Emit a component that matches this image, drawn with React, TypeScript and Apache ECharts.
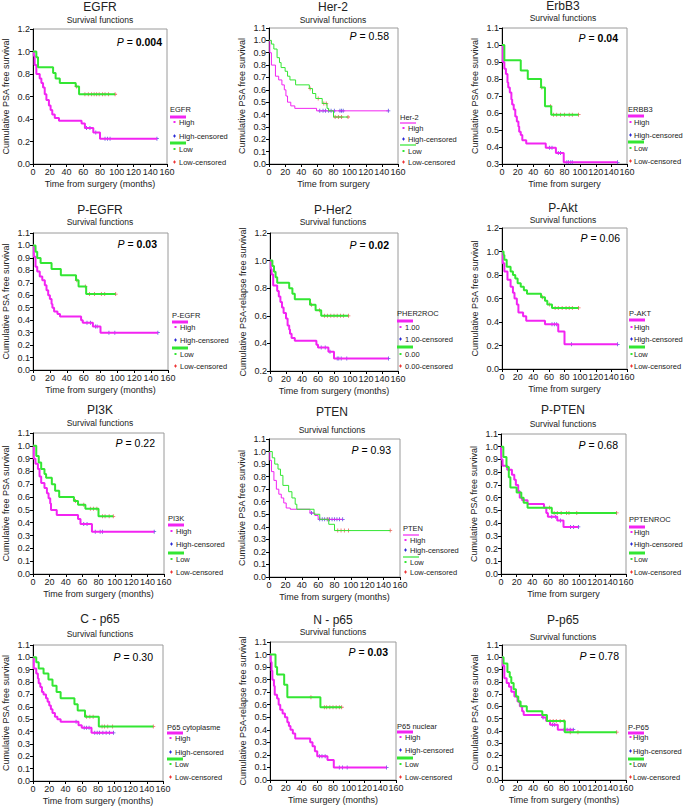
import React, { useEffect, useRef } from 'react';
import * as echarts from 'echarts';

type Pt = [number, number];

// ---------- data: step points [time (months), survival] and censor times ----------
const egfrHigh: Pt[] = [[0,1],[1,0.96],[2,0.88],[4,0.8],[8,0.76],[10,0.72],[12,0.68],[14,0.62],[16,0.57],[19,0.52],[21,0.48],[23,0.44],[26,0.41],[31,0.385],[58,0.36],[62,0.32],[72,0.28],[80,0.225]];
const egfrHighCens = [64, 68, 75, 86, 89, 92, 148];
const egfrLow: Pt[] = [[0,1],[4,0.95],[6,0.86],[24,0.81],[27,0.76],[32,0.72],[51,0.69],[55,0.62]];
const egfrLowCens = [52, 62, 66, 70, 73, 76, 79, 83, 86, 90, 98];

const her2High: Pt[] = [[0,1],[1,0.9],[3,0.8],[8,0.71],[12,0.68],[16,0.64],[19,0.6],[21,0.55],[23,0.5],[27,0.47],[32,0.45],[59,0.43]];
const her2HighCens = [63, 67, 70, 74, 77, 81, 88, 90, 92, 148];
const her2Low: Pt[] = [[0,1],[3,0.97],[6,0.93],[10,0.86],[13,0.82],[15,0.78],[20,0.75],[23,0.71],[26,0.68],[33,0.64],[50,0.61],[54,0.57],[58,0.53],[66,0.49],[72,0.45],[74,0.43],[80,0.38]];
const her2LowCens = [51, 61, 68, 71, 82, 86, 90, 98];

const erbHigh: Pt[] = [[0,1],[1,0.9],[3,0.86],[5,0.83],[7,0.78],[8,0.75],[10,0.72],[12,0.68],[13,0.65],[15,0.62],[17,0.58],[19,0.55],[21,0.52],[22,0.49],[24,0.47],[26,0.44],[31,0.42],[56,0.395],[69,0.365],[79,0.31]];
const erbHighCens = [61, 64, 72, 75, 83, 85, 88, 90, 148];
const erbLow: Pt[] = [[0,1],[3,0.91],[24,0.85],[33,0.8],[50,0.75],[55,0.64],[63,0.59]];
const erbLowCens = [51, 62, 66, 70, 75, 80, 86, 90, 98];

const pegfrHigh: Pt[] = [[0,1],[1,0.91],[3,0.83],[5,0.79],[8,0.75],[11,0.72],[14,0.68],[16,0.64],[18,0.6],[20,0.57],[22,0.53],[23,0.5],[25,0.47],[29,0.45],[32,0.43],[57,0.4],[59,0.38],[71,0.35],[80,0.3]];
const pegfrHighCens = [64, 68, 74, 76, 90, 97, 148];
const pegfrLow: Pt[] = [[0,1],[3,0.95],[5,0.9],[9,0.86],[22,0.81],[33,0.76],[51,0.72],[54,0.67],[63,0.61]];
const pegfrLowCens = [52, 62, 67, 73, 81, 85, 98];

const pher2High: Pt[] = [[0,1],[1,0.94],[2,0.9],[4,0.82],[9,0.78],[11,0.74],[13,0.7],[15,0.66],[17,0.62],[20,0.58],[22,0.53],[24,0.5],[25,0.47],[27,0.44],[31,0.42],[58,0.39],[60,0.37],[73,0.34],[80,0.29]];
const pher2HighCens = [64, 69, 75, 84, 86, 89, 96, 148];
const pher2Low: Pt[] = [[0,1],[3,0.96],[5,0.92],[7,0.88],[9,0.84],[24,0.8],[28,0.76],[31,0.72],[50,0.68],[57,0.64],[64,0.6]];
const pher2LowCens = [52, 62, 68, 72, 76, 80, 84, 88, 92, 98];

const paktHigh: Pt[] = [[0,1],[1,0.9],[3,0.83],[7,0.76],[11,0.7],[14,0.65],[16,0.6],[19,0.55],[21,0.48],[27,0.45],[31,0.41],[55,0.38],[72,0.32],[80,0.21]];
const paktHighCens = [64, 67, 70, 89, 148];
const paktLow: Pt[] = [[0,1],[2,0.97],[3,0.93],[6,0.87],[11,0.83],[14,0.8],[17,0.77],[20,0.73],[24,0.7],[28,0.67],[32,0.64],[50,0.61],[55,0.58],[58,0.55],[64,0.52]];
const paktLowCens = [52, 61, 68, 72, 77, 82, 86, 90, 98];

const pi3kHigh: Pt[] = [[0,1],[1,0.9],[3,0.86],[6,0.82],[8,0.76],[10,0.71],[14,0.67],[17,0.63],[19,0.59],[21,0.55],[22,0.5],[29,0.46],[55,0.43],[58,0.39],[72,0.33]];
const pi3kHighCens = [62, 66, 76, 82, 85, 148];
const pi3kLow: Pt[] = [[0,1],[4,0.92],[7,0.87],[10,0.82],[14,0.78],[16,0.75],[23,0.7],[27,0.65],[32,0.6],[50,0.57],[55,0.54],[64,0.51],[80,0.45]];
const pi3kLowCens = [52, 62, 70, 74, 78, 85, 88, 93, 98];

const ptenHigh: Pt[] = [[0,1],[1,0.93],[3,0.84],[6,0.77],[9,0.7],[12,0.66],[15,0.63],[18,0.59],[21,0.55],[26,0.54],[50,0.51],[56,0.49],[60,0.46]];
const ptenHighCens = [52, 62, 65, 68, 71, 74, 77, 80, 83, 86, 90];
const ptenLow: Pt[] = [[0,1],[4,0.95],[7,0.9],[11,0.86],[14,0.81],[17,0.73],[24,0.68],[28,0.63],[32,0.58],[34,0.54],[55,0.5],[62,0.46],[73,0.42],[80,0.37]];
const ptenLowCens = [72, 84, 88, 92, 97, 148];

const pptenHigh: Pt[] = [[0,1],[0.5,0.9],[2,0.85],[8,0.82],[14,0.78],[17,0.74],[19,0.7],[22,0.65],[24,0.6],[27,0.58],[34,0.55],[55,0.52],[58,0.48],[60,0.45],[72,0.42],[80,0.37]];
const pptenHighCens = [65, 70, 76, 89, 93, 99];
const pptenLow: Pt[] = [[0,1],[3,0.92],[7,0.84],[10,0.76],[12,0.68],[20,0.64],[26,0.6],[29,0.56],[34,0.52],[65,0.48]];
const pptenLowCens = [62, 68, 72, 77, 84, 87, 97, 148];

const cp65High: Pt[] = [[0,1],[1,0.91],[4,0.87],[6,0.83],[7,0.79],[9,0.76],[11,0.72],[13,0.7],[16,0.67],[18,0.64],[20,0.61],[22,0.58],[24,0.55],[27,0.52],[30,0.5],[34,0.48],[56,0.45],[60,0.43],[72,0.39]];
const cp65HighCens = [53, 63, 66, 69, 76, 79, 82, 86, 90, 94, 99];
const cp65Low: Pt[] = [[0,1],[4,0.96],[7,0.91],[13,0.87],[19,0.82],[24,0.77],[29,0.72],[34,0.67],[51,0.62],[55,0.57],[64,0.52],[81,0.44]];
const cp65LowCens = [66, 70, 74, 85, 88, 92, 98, 148];

const np65High: Pt[] = [[0,1],[1,0.94],[2,0.87],[3,0.8],[5,0.75],[6,0.68],[9,0.65],[11,0.6],[13,0.56],[16,0.53],[19,0.5],[22,0.46],[24,0.43],[26,0.4],[29,0.37],[32,0.33],[51,0.3],[54,0.27],[57,0.23],[60,0.19],[73,0.16],[81,0.1]];
const np65HighCens = [63, 66, 70, 88, 92, 98, 148];
const np65Low: Pt[] = [[0,1],[7,0.9],[9,0.84],[18,0.76],[22,0.66],[64,0.58]];
const np65LowCens = [52, 69, 72, 76, 80, 84, 88, 91];

const pp65High: Pt[] = [[0,1],[1,0.93],[3,0.83],[6,0.79],[9,0.76],[12,0.72],[16,0.68],[20,0.64],[23,0.6],[26,0.56],[28,0.53],[52,0.51],[57,0.48],[62,0.45],[72,0.41]];
const pp65HighCens = [53, 65, 68, 80, 84, 88, 92];
const pp65Low: Pt[] = [[0,1],[2,0.95],[7,0.88],[10,0.84],[12,0.79],[15,0.74],[18,0.68],[21,0.64],[24,0.6],[32,0.56],[52,0.53],[58,0.48],[81,0.39]];
const pp65LowCens = [62, 66, 70, 75, 80, 88, 98, 148];

const xTicks = { min: 0, max: 160, interval: 20 };
const hlLabels = ['High', 'High-censored', 'Low', 'Low-censored'];
const rocLabels = ['1.00', '1.00-censored', '0.00', '0.00-censored'];

// ---------- layout ----------
const FONT = '"Liberation Sans", Arial, Helvetica, sans-serif';
const MAGENTA = '#f224f2';
const GREEN = '#33e633';
const BLUE = '#2a2ad6';
const RED = '#ee3434';
const TXT = '#222';

const YN = 'Cumulative PSA free survival';
const YR = 'Cumulative PSA-relapse free survival';
const XM = 'Time from surgery (months)';
const XS = 'Time from surgery';

const panels = [
  { title: 'EGFR', tx: 100, ty: 7, sy: 20, p: '0.004', bold: true, pr: 162, py: 42, x0: 33, x1: 167, top: 29, bot: 164, min: 0, max: 1.2, step: 0.2, xName: XM, yName: YN, lx: 170, lo: 9, ly: [109, 117, 122, 136, 143, 149, 162], lt: 'EGFR', labels: hlLabels, thin: false, high: egfrHigh, highC: egfrHighCens, low: egfrLow, lowC: egfrLowCens },
  { title: 'Her-2', tx: 333, ty: 7, sy: 20, p: '0.58', bold: false, pr: 389, py: 36, x0: 269, x1: 398, top: 28, bot: 164, min: 0, max: 1.1, step: 0.1, xName: XS, yName: YN, lx: 400, lo: 8, ly: [117, 123, 128, 139, 145, 151, 162], lt: 'Her-2', labels: hlLabels, thin: true, high: her2High, highC: her2HighCens, low: her2Low, lowC: her2LowCens },
  { title: 'ErbB3', tx: 563, ty: 6, sy: 17.5, p: '0.04', bold: true, pr: 618, py: 38, x0: 502, x1: 627, top: 28, bot: 164, min: 0.3, max: 1.1, step: 0.1, xName: XS, yName: YN, lx: 628, lo: 6, ly: [109, 116, 122, 135, 142, 148, 161], lt: 'ERBB3', labels: hlLabels, thin: false, high: erbHigh, highC: erbHighCens, low: erbLow, lowC: erbLowCens },
  { title: 'P-EGFR', tx: 100, ty: 210, sy: 222, p: '0.03', bold: true, pr: 157, py: 244, x0: 33, x1: 168, top: 233, bot: 370, min: 0, max: 1.1, step: 0.1, xName: XM, yName: YN, lx: 172, lo: 8, ly: [315, 322, 327, 340, 348, 354, 366], lt: 'P-EGFR', labels: hlLabels, thin: false, high: pegfrHigh, highC: pegfrHighCens, low: pegfrLow, lowC: pegfrLowCens },
  { title: 'P-Her2', tx: 333, ty: 210, sy: 222, p: '0.02', bold: true, pr: 389, py: 245, x0: 270, x1: 398, top: 233, bot: 371, min: 0.2, max: 1.2, step: 0.2, xName: XM, yName: YR, lx: 397, lo: 8, ly: [313, 321, 327, 339, 347, 354, 366], lt: 'PHER2ROC', labels: rocLabels, thin: false, high: pher2High, highC: pher2HighCens, low: pher2Low, lowC: pher2LowCens },
  { title: 'P-Akt', tx: 563, ty: 208, sy: 220, p: '0.06', bold: false, pr: 620, py: 238, x0: 502, x1: 627, top: 228, bot: 369, min: 0, max: 1.2, step: 0.2, xName: XS, yName: YN, lx: 629, lo: 5, ly: [313, 320, 327, 339, 347, 354, 366], lt: 'P-AKT', labels: hlLabels, thin: false, high: paktHigh, highC: paktHighCens, low: paktLow, lowC: paktLowCens },
  { title: 'PI3K', tx: 100, ty: 410, sy: 423, p: '0.22', bold: false, pr: 155, py: 443, x0: 33, x1: 164, top: 433, bot: 574, min: 0, max: 1.1, step: 0.1, xName: XM, yName: 'Cumulative free PSA survival', lx: 168, lo: 8, ly: [518, 525, 531, 544, 553, 559, 572], lt: 'PI3K', labels: hlLabels, thin: false, high: pi3kHigh, highC: pi3kHighCens, low: pi3kLow, lowC: pi3kLowCens },
  { title: 'PTEN', tx: 332, ty: 412, sy: 430, p: '0.93', bold: false, pr: 391, py: 450, x0: 269, x1: 400, top: 439, bot: 577, min: 0, max: 1.1, step: 0.1, xName: XM, yName: YN, lx: 403, lo: 7, ly: [528, 535, 540, 550, 557, 562, 572], lt: 'PTEN', labels: hlLabels, thin: true, high: ptenHigh, highC: ptenHighCens, low: ptenLow, lowC: ptenLowCens },
  { title: 'P-PTEN', tx: 563, ty: 410, sy: 424, p: '0.68', bold: false, pr: 618, py: 445, x0: 501, x1: 626, top: 434, bot: 574, min: 0, max: 1.1, step: 0.1, xName: XS, yName: YN, lx: 629, lo: 5, ly: [519, 527, 532, 544, 553, 559, 572], lt: 'PPTENROC', labels: hlLabels, thin: false, high: pptenHigh, highC: pptenHighCens, low: pptenLow, lowC: pptenLowCens },
  { title: 'C - p65', tx: 100, ty: 619, sy: 634, p: '0.30', bold: false, pr: 153, py: 657, x0: 33, x1: 163, top: 645, bot: 781, min: 0, max: 1.1, step: 0.1, xName: XM, yName: YN, lx: 167, lo: 8, ly: [727, 733, 738, 752, 759, 764, 777], lt: 'P65 cytoplasme', labels: hlLabels, thin: false, high: cp65High, highC: cp65HighCens, low: cp65Low, lowC: cp65LowCens },
  { title: 'N - p65', tx: 333, ty: 620, sy: 632, p: '0.03', bold: true, pr: 388, py: 652, x0: 270, x1: 396, top: 642, bot: 780, min: 0, max: 1.1, step: 0.1, xName: 'Time surgery (months)', yName: YR, lx: 397, lo: 8, ly: [726, 732, 737, 750, 758, 764, 777], lt: 'P65 nuclear', labels: hlLabels, thin: false, high: np65High, highC: np65HighCens, low: np65Low, lowC: np65LowCens },
  { title: 'P-p65', tx: 563, ty: 620, sy: 637, p: '0.78', bold: false, pr: 619, py: 656, x0: 502, x1: 626, top: 645, bot: 780, min: 0, max: 1.1, step: 0.1, xName: XM, yName: YN, lx: 628, lo: 5, ly: [727, 733, 737, 751, 759, 764, 777], lt: 'P-P65', labels: hlLabels, thin: false, high: pp65High, highC: pp65HighCens, low: pp65Low, lowC: pp65LowCens },
];

function survAt(steps: Pt[], t: number): number {
  let v = steps[0][1];
  for (const s of steps) if (s[0] <= t) v = s[1];
  return v;
}
function lineData(steps: Pt[], cens: number[]): Pt[] {
  const out = steps.slice();
  const last = steps[steps.length - 1];
  const maxC = Math.max(...cens);
  if (maxC > last[0]) out.push([maxC, last[1]]);
  return out;
}

const PLUS = 'path://M2,0H3V2H5V3H3V5H2V3H0V2H2Z';

function buildOption() {
  const grid: any[] = [];
  const xAxis: any[] = [];
  const yAxis: any[] = [];
  const series: any[] = [];
  const graphic: any[] = [];
  panels.forEach((p, i) => {
    grid.push({ left: p.x0, top: p.top, width: p.x1 - p.x0, height: p.bot - p.top, show: true, borderColor: '#9a9a9a', borderWidth: 1, containLabel: false });
    const lab = { fontSize: 9, color: TXT, fontFamily: FONT, margin: 3 };
    xAxis.push({
      gridIndex: i, type: 'value', min: xTicks.min, max: xTicks.max, interval: xTicks.interval,
      name: p.xName, nameLocation: 'middle', nameGap: 15,
      nameTextStyle: { fontSize: 9, color: TXT, fontFamily: FONT },
      axisLine: { show: true, onZero: false, lineStyle: { color: '#000', width: 1 } },
      axisTick: { show: true, length: 3, lineStyle: { color: '#000' } },
      splitLine: { show: false }, axisLabel: lab,
    });
    yAxis.push({
      gridIndex: i, type: 'value', min: p.min, max: p.max, interval: p.step,
      name: p.yName, nameLocation: 'middle', nameGap: 23, nameRotate: 90,
      nameTextStyle: { fontSize: 9, color: TXT, fontFamily: FONT },
      axisLine: { show: true, onZero: false, lineStyle: { color: '#000', width: 1 } },
      axisTick: { show: true, length: 3, lineStyle: { color: '#000' } },
      splitLine: { show: false },
      axisLabel: { ...lab, formatter: (v: number) => v.toFixed(1) },
    });
    const lw = p.thin ? 1 : 2;
    series.push({ type: 'line', xAxisIndex: i, yAxisIndex: i, step: 'end', symbol: 'none', data: lineData(p.high, p.highC), lineStyle: { color: MAGENTA, width: lw }, itemStyle: { color: MAGENTA }, silent: true });
    series.push({ type: 'line', xAxisIndex: i, yAxisIndex: i, step: 'end', symbol: 'none', data: lineData(p.low, p.lowC), lineStyle: { color: GREEN, width: lw }, itemStyle: { color: GREEN }, silent: true });
    series.push({ type: 'scatter', xAxisIndex: i, yAxisIndex: i, symbol: PLUS, symbolSize: 4, data: p.highC.map((t) => [t, survAt(p.high, t)]), itemStyle: { color: BLUE }, silent: true });
    series.push({ type: 'scatter', xAxisIndex: i, yAxisIndex: i, symbol: PLUS, symbolSize: 4, data: p.lowC.map((t) => [t, survAt(p.low, t)]), itemStyle: { color: RED }, silent: true });

    // titles
    graphic.push({ type: 'text', x: p.tx, y: p.ty, style: { text: p.title, fontSize: 12, fontFamily: FONT, fill: TXT, align: 'center', verticalAlign: 'middle' } });
    graphic.push({ type: 'text', x: p.tx, y: p.sy, style: { text: 'Survival functions', fontSize: 8.5, fontFamily: FONT, fill: TXT, align: 'center', verticalAlign: 'middle' } });
    graphic.push({
      type: 'text', x: p.pr, y: p.py,
      style: {
        text: '{i|P} = {' + (p.bold ? 'b' : 'n') + '|' + p.p + '}',
        fontSize: 10.5, fontFamily: FONT, fill: '#000', align: 'right', verticalAlign: 'middle',
        rich: {
          i: { fontStyle: 'italic', fontSize: 10.5, fontFamily: FONT, fill: '#000' },
          b: { fontWeight: 'bold', fontSize: 10.5, fontFamily: FONT, fill: '#000' },
          n: { fontSize: 10.5, fontFamily: FONT, fill: '#000' },
        },
      },
    });
    // legend
    const lx = p.lx, ly = p.ly, lo = p.lo;
    const mx = lx + Math.max(2.5, lo - 4.5);
    const lwL = p.thin ? 1.2 : 3;
    const t = (x: number, y: number, s: string, fs = 7.5) => ({ type: 'text', x, y, style: { text: s, fontSize: fs, fontFamily: FONT, fill: TXT, verticalAlign: 'middle' } });
    const dot = (x: number, y: number, c: string) => ({ type: 'rect', shape: { x: x - 1, y: y - 1, width: 2, height: 2 }, style: { fill: c } });
    const plus = (x: number, y: number, c: string) => ({ type: 'group', children: [
      { type: 'line', shape: { x1: x - 1.5, y1: y, x2: x + 1.5, y2: y }, style: { stroke: c, lineWidth: 1 } },
      { type: 'line', shape: { x1: x, y1: y - 1.5, x2: x, y2: y + 1.5 }, style: { stroke: c, lineWidth: 1 } },
    ] });
    graphic.push(t(lx, ly[0], p.lt));
    graphic.push({ type: 'line', shape: { x1: lx, y1: ly[1], x2: lx + 16, y2: ly[1] }, style: { stroke: MAGENTA, lineWidth: lwL } });
    graphic.push(dot(mx, ly[2], MAGENTA));
    graphic.push(t(lx + lo, ly[2], p.labels[0]));
    graphic.push(plus(mx, ly[3], BLUE));
    graphic.push(t(lx + lo, ly[3], p.labels[1]));
    graphic.push({ type: 'line', shape: { x1: lx, y1: ly[4], x2: lx + 16, y2: ly[4] }, style: { stroke: GREEN, lineWidth: lwL } });
    graphic.push(dot(mx, ly[5], GREEN));
    graphic.push(t(lx + lo, ly[5], p.labels[2]));
    graphic.push(plus(mx, ly[6], RED));
    graphic.push(t(lx + lo, ly[6], p.labels[3]));
  });
  return { animation: false, backgroundColor: '#fff', textStyle: { fontFamily: FONT }, grid, xAxis, yAxis, series, graphic };
}

export default function App() {
  const ref = useRef<HTMLDivElement>(null);
  useEffect(() => {
    if (!ref.current) return;
    const chart = echarts.init(ref.current, undefined, { renderer: 'svg' });
    chart.setOption(buildOption() as any);
    return () => chart.dispose();
  }, []);
  return <div ref={ref} style={{ position: 'absolute', left: 0, top: 0, width: 685, height: 806, background: '#fff' }} />;
}
